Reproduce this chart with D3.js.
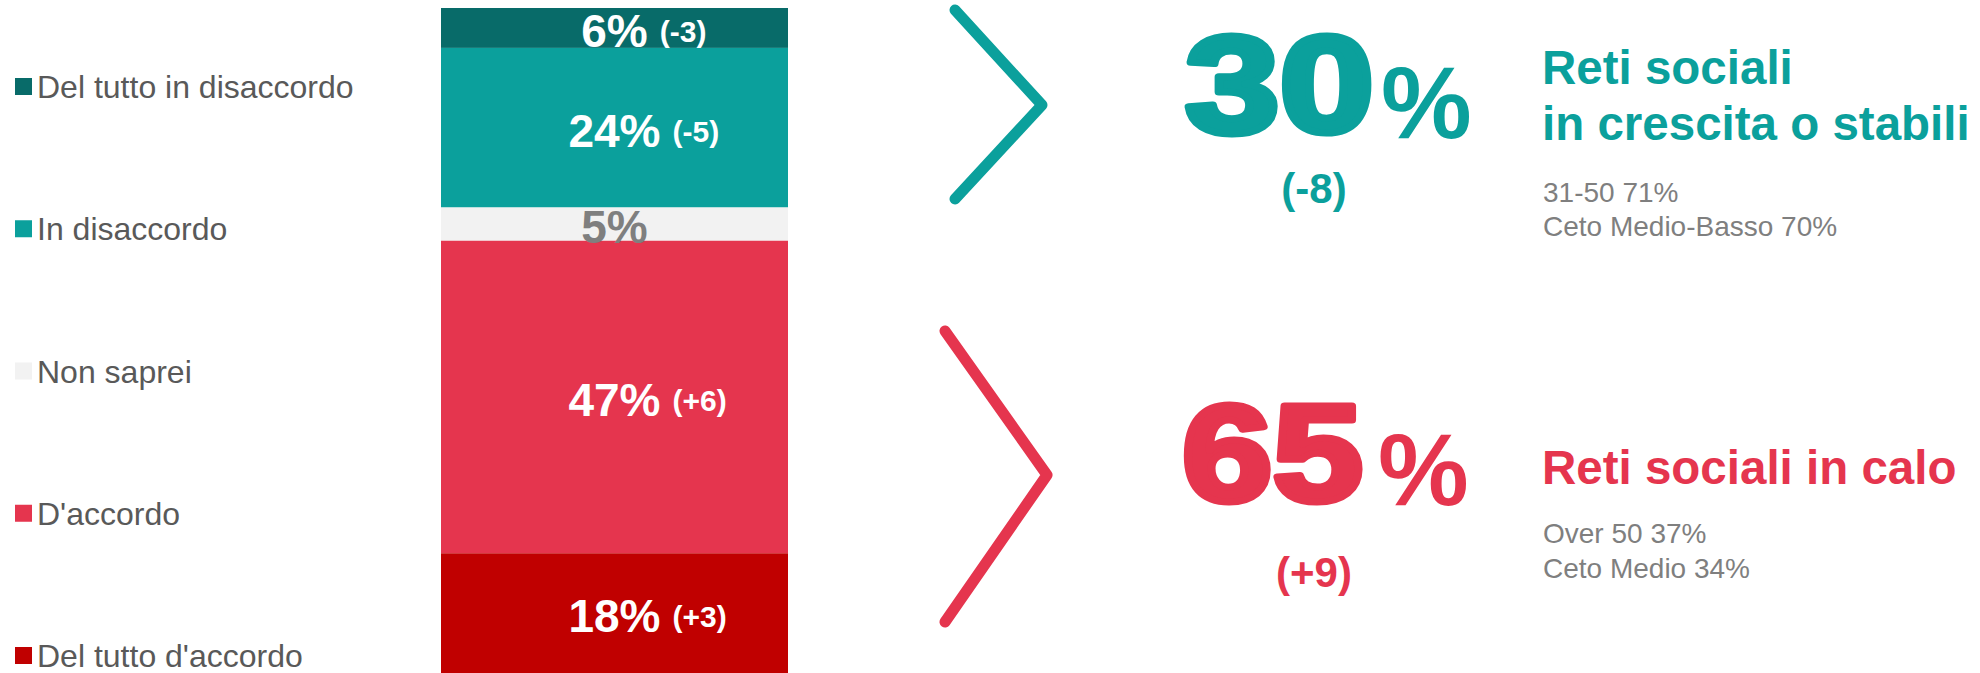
<!DOCTYPE html>
<meta charset="utf-8">
<style>
  body { margin: 0; background: #fff; }
  text { font-family: "Liberation Sans", Arial, sans-serif; }
  .legend text { fill: #595959; font-size: 32px; }
  .seg-label { font-size: 46px; font-weight: bold; }
  .seg-delta { font-size: 30px; font-weight: bold; fill: #fff; }
  .sub { fill: #7f7f7f; font-size: 28px; }
</style>
<svg width="1980" height="673"></svg>
<script src="https://d3js.org/d3.v7.min.js"></script>
<script>

  // stacked bar data, top to bottom
  var categories = ["Del tutto in disaccordo", "In disaccordo", "Non saprei", "D'accordo", "Del tutto d'accordo"];
  var values = [6, 24, 5, 47, 18];
  var deltas = ["(-3)", "(-5)", "", "(+6)", "(+3)"];
  var colors = ["#086b69", "#0ba09c", "#f2f2f2", "#e5354e", "#c00000"];
  var labelColors = ["#fff", "#fff", "#7f7f7f", "#fff", "#fff"];

  // summary blocks on the right
  var totals = [30, 65];
  var totalDeltas = ["(-8)", "(+9)"];
  var titles = [["Reti sociali", "in crescita o stabili"], ["Reti sociali in calo"]];
  var subtitles = [["31-50 71%", "Ceto Medio-Basso 70%"], ["Over 50 37%", "Ceto Medio 34%"]];
  var summaryColors = ["#0ba09c", "#e5354e"];

  var svg = d3.select("svg");

  var y = d3.scaleLinear()
    .domain([0, d3.sum(values)])
    .range([8, 673]);

  var x = d3.scaleBand()
    .domain(["bar"])
    .range([441, 788])
    .padding(0);

  var stacked = [];
  var acc = 0;
  values.forEach(function (v, i) {
    stacked.push({ cat: categories[i], v: v, y0: acc, y1: acc + v, delta: deltas[i], color: colors[i], lc: labelColors[i] });
    acc += v;
  });

  //
  // bar segments
  //
  svg.append("g")
    .selectAll("rect")
    .data(stacked)
    .enter().append("rect")
    .attr("x", x("bar"))
    .attr("width", x.bandwidth())
    .attr("y", d => y(d.y0))
    .attr("height", d => y(d.y1) - y(d.y0))
    .attr("fill", d => d.color);

  // labels: number centered on the bar, delta after it
  var cx = x("bar") + x.bandwidth() / 2;
  var lab = svg.append("g").selectAll("g")
    .data(stacked)
    .enter().append("g");

  lab.append("text")
    .attr("class", "seg-label")
    .attr("x", cx)
    .attr("y", d => (y(d.y0) + y(d.y1)) / 2 + 19)
    .attr("text-anchor", "middle")
    .attr("fill", d => d.lc)
    .text(d => d.v + "%");

  lab.append("text")
    .attr("class", "seg-delta")
    .attr("x", function (d) {
      var w = this.parentNode.querySelector(".seg-label").getComputedTextLength();
      return cx + w / 2 + 12;
    })
    .attr("y", d => (y(d.y0) + y(d.y1)) / 2 + 14)
    .text(d => d.delta);

  //
  // legend
  //
  var legend = svg.append("g")
    .attr("class", "legend");

  var ly = d3.scalePoint()
    .domain(categories)
    .range([98, 667]);

  var li = legend.selectAll("g")
    .data(categories)
    .enter().append("g")
    .attr("transform", d => "translate(0," + ly(d) + ")");

  li.append("rect")
    .attr("x", 15)
    .attr("y", -20)
    .attr("width", 17)
    .attr("height", 17)
    .attr("fill", (d, i) => colors[i]);

  li.append("text")
    .attr("x", 37)
    .attr("y", 0)
    .text(d => d);

  //
  // chevrons + summary numbers
  //
  var blocks = [
    { chev: [[955, 10], [1042, 105], [955, 199]], numX: 1185, numLen: 189, numY: 132, pctX: 1381, pctY: 138, dY: 203, tY: 84, sY: 201.7 },
    { chev: [[945, 331], [1047, 475], [945, 622]], numX: 1182, numLen: 181, numY: 501, pctX: 1378, pctY: 505, dY: 587, tY: 484, sY: 543 }
  ];

  blocks.forEach(function (b, i) {
    var c = summaryColors[i];

    svg.append("path")
      .attr("d", d3.line()(b.chev))
      .attr("fill", "none")
      .attr("stroke", c)
      .attr("stroke-width", 11)
      .attr("stroke-linecap", "round")
      .attr("stroke-linejoin", "round");

    svg.append("text")
      .attr("x", b.numX)
      .attr("y", b.numY)
      .attr("font-size", 138)
      .attr("font-weight", "bold")
      .attr("fill", c)
      .attr("stroke", c)
      .attr("stroke-width", 7)
      .attr("stroke-linejoin", "round")
      .attr("textLength", b.numLen)
      .attr("lengthAdjust", "spacingAndGlyphs")
      .text(totals[i]);

    svg.append("text")
      .attr("x", b.pctX)
      .attr("y", b.pctY)
      .attr("font-size", 102)
      .attr("font-weight", "bold")
      .attr("fill", c)
      .text("%");

    svg.append("text")
      .attr("x", 1314)
      .attr("y", b.dY)
      .attr("text-anchor", "middle")
      .attr("font-size", 42)
      .attr("font-weight", "bold")
      .attr("fill", c)
      .text(totalDeltas[i]);

    svg.append("g").selectAll("text")
      .data(titles[i])
      .enter().append("text")
      .attr("x", 1542)
      .attr("y", (d, j) => b.tY + j * 55.5)
      .attr("font-size", 47.5)
      .attr("font-weight", "bold")
      .attr("fill", c)
      .text(d => d);

    svg.append("g").selectAll("text")
      .data(subtitles[i])
      .enter().append("text")
      .attr("class", "sub")
      .attr("x", 1543)
      .attr("y", (d, j) => b.sY + j * 34.5)
      .text(d => d);
  });

</script>
